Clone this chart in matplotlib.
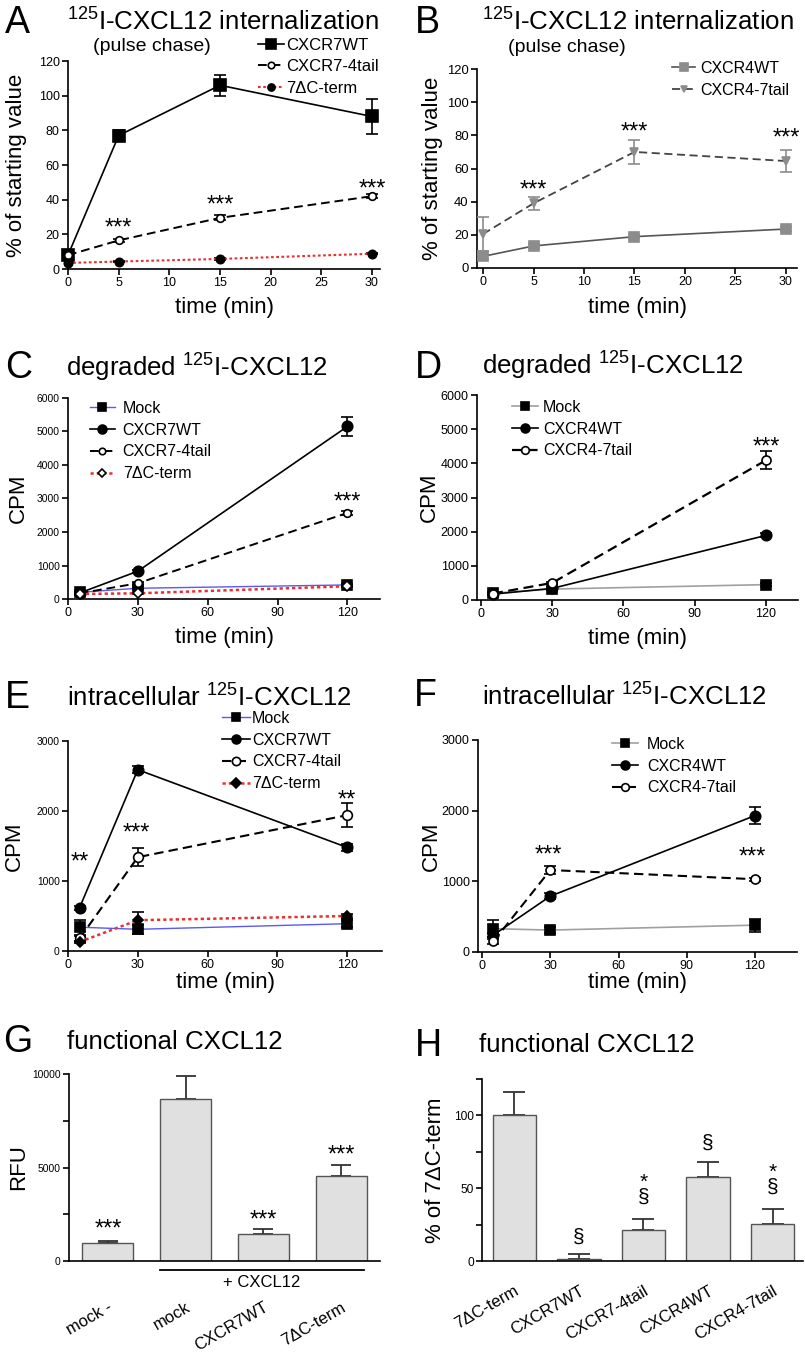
import matplotlib
matplotlib.use('Agg')
import matplotlib.pyplot as plt
from matplotlib.transforms import blended_transform_factory
import numpy as np

plt.rcParams['font.family'] = ['Liberation Sans', 'DejaVu Sans']
plt.rcParams['mathtext.fontset'] = 'custom'
plt.rcParams['mathtext.rm'] = 'Liberation Sans'
plt.rcParams['axes.linewidth'] = 1.2

# ---------------- data ----------------
A_time = [0, 5, 15, 30]
A_wt = [8, 77, 106, 88]
A_wt_err = [2, 3, 6, 10]
A_4tail = [8, 16.5, 29.5, 42]
A_4tail_err = [0.5, 1, 1.5, 1]
A_dC = [3.5, 4.3, 5.8, 8.8]
A_dC_err = [0.3, 0.3, 0.4, 0.4]
A_star_x = [5, 15, 30]
A_star_y = [27.4, 40.8, 50.4]

B_time = [0, 5, 15, 30]
B_wt = [7, 13.3, 18.9, 23.5]
B_wt_err = [1.5, 1, 1, 1]
B_7tail = [20.5, 39, 70, 64.5]
B_7tail_err = [10, 4, 7, 6.5]
B_star_x = [5, 15, 30]
B_star_y = [51, 86.4, 82.8]

C_time = [5, 30, 120]
C_mock = [200, 320, 420]
C_mock_err = [30, 30, 40]
C_wt = [180, 830, 5150]
C_wt_err = [30, 40, 290]
C_4tail = [170, 470, 2570]
C_4tail_err = [20, 40, 50]
C_dC = [150, 170, 380]
C_dC_err = [20, 20, 30]
C_star_x = [120]
C_star_y = [3110]

D_time = [5, 30, 120]
D_mock = [200, 320, 450]
D_mock_err = [30, 30, 40]
D_wt = [170, 340, 1890]
D_wt_err = [20, 30, 60]
D_7tail = [190, 500, 4090]
D_7tail_err = [20, 40, 260]
D_star_x = [120]
D_star_y = [4690]

E_time = [5, 30, 120]
E_mock = [340, 310, 390]
E_mock_err = [110, 60, 50]
E_wt = [620, 2590, 1480]
E_wt_err = [30, 50, 50]
E_4tail = [180, 1340, 1940]
E_4tail_err = [30, 130, 170]
E_dC = [130, 440, 500]
E_dC_err = [20, 120, 30]
E_star_x = [5, 29.4, 120]
E_star_y = [1377, 1783, 2262]
E_star_txt = ['**', '***', '**']

F_time = [5, 30, 120]
F_mock = [330, 310, 380]
F_mock_err = [120, 40, 90]
F_wt = [240, 790, 1930]
F_wt_err = [30, 40, 120]
F_7tail = [150, 1160, 1030]
F_7tail_err = [30, 50, 20]
F_star_x = [29, 119]
F_star_y = [1467, 1447]

G_labels = ['mock -', 'mock', 'CXCR7WT', '7\u0394C-term']
G_values = [970, 8650, 1460, 4560]
G_err = [110, 1220, 240, 570]
G_star_y = [2085, None, 2567, 6043]

H_labels = ['7\u0394C-term', 'CXCR7WT', 'CXCR7-4tail', 'CXCR4WT', 'CXCR4-7tail']
H_values = [100, 1.5, 21.5, 57.7, 25.7]
H_err = [16, 3.2, 7.6, 10, 10.3]
H_sect_y = [None, 16.6, 44, 81, 51]
H_mark = ['', '\u00a7', '*\n\u00a7', '\u00a7', '*\n\u00a7']

# ---------------- figure ----------------
W, H = 805, 1358
fig = plt.figure(figsize=(W / 100, H / 100), dpi=100)


def add_axes(l, r, t, b):
    return fig.add_axes([l / W, 1 - b / H, (r - l) / W, (b - t) / H])


def ftext(x, y, s, **kw):
    fig.text(x / W, 1 - y / H, s, **kw)


def style(ax, xlim, xticks, ylim, yticks, yfs, xfs=9):
    ax.spines['top'].set_visible(False)
    ax.spines['right'].set_visible(False)
    ax.set_xlim(xlim)
    ax.set_ylim(ylim)
    ax.set_xticks(xticks)
    ax.set_yticks(yticks)
    ax.tick_params(axis='y', labelsize=yfs, direction='out', length=4, width=1.2, pad=2)
    ax.tick_params(axis='x', labelsize=xfs, direction='out', length=4, width=1.2, pad=2)


def series(ax, x, y, err, color, ls, lw, marker, ms, mfc, mec, ecolor, label, z=3, capsize=4.5):
    ax.errorbar(x, y, yerr=err, fmt='none', ecolor=ecolor, elinewidth=1.2,
                capsize=capsize, capthick=1.2, zorder=z)
    ln, = ax.plot(x, y, color=color, ls=ls, lw=lw, marker=marker, ms=ms, mfc=mfc,
                  mec=mec, mew=1.2, label=label, zorder=z + 0.1, clip_on=False)
    return ln


def legend(ax, handles, x, ytop, fs=11.5, hl=1.6, htp=0.3, ls=0.42):
    ax.legend(handles=handles, loc='upper left', bbox_to_anchor=(x / W, 1 - ytop / H),
              bbox_transform=fig.transFigure, frameon=False, fontsize=fs,
              handlelength=hl, handletextpad=htp, labelspacing=ls, borderpad=0,
              borderaxespad=0, numpoints=1, markerscale=0.85)


def stars(ax, xs, ys, txt, fs=17):
    if isinstance(txt, str):
        txt = [txt] * len(xs)
    for x, y, s in zip(xs, ys, txt):
        ax.annotate(s, (x, y), xytext=(0, -0.57 * fs), textcoords='offset points',
                    ha='center', va='baseline', fontsize=fs, annotation_clip=False)


RED = '#e8312f'
BLUE = '#5a5af0'
GRAY = '#a0a0a0'
DASH = (0, (4.5, 2.5))
DOT = (0, (1.3, 1.2))
sup = r'$\mathregular{^{125}}$'
TITLE_FS = 18.6
LETTER_FS = 27
LABEL_FS = 16

# ---------------- Panel A ----------------
ax = add_axes(68, 380, 61, 269)
style(ax, (0, 30.8), [0, 5, 10, 15, 20, 25, 30], (0, 120), range(0, 121, 20), 9)
h1 = series(ax, A_time, A_wt, A_wt_err, 'black', '-', 1.2, 's', 9, 'black', 'black', 'black', 'CXCR7WT')
h2 = series(ax, A_time, A_4tail, A_4tail_err, 'black', DASH, 1.4, 'o', 5.5, 'white', 'black', 'black', 'CXCR7-4tail')
h3 = series(ax, A_time, A_dC, A_dC_err, RED, DOT, 1.5, 'o', 6, 'black', 'black', 'black', '7\u0394C-term')
legend(ax, [h1, h2, h3], 258, 38, fs=12, hl=1.55, htp=0.15, ls=0.38)
stars(ax, A_star_x, A_star_y, '***')
ax.set_ylabel('% of starting value', fontsize=LABEL_FS)
ax.yaxis.set_label_coords(-0.131, 0.5)
ax.set_xlabel('time (min)', fontsize=LABEL_FS)
ax.xaxis.set_label_coords(0.5, -0.135)
ftext(5, 33, 'A', fontsize=LETTER_FS, va='baseline')
ftext(67, 31, sup + 'I-CXCL12 internalization', fontsize=TITLE_FS, va='baseline')
ftext(93, 51, '(pulse chase)', fontsize=14, va='baseline')

# ---------------- Panel B ----------------
ax = add_axes(477, 797, 69, 268)
style(ax, (-0.6, 31.1), [0, 5, 10, 15, 20, 25, 30], (0, 120), range(0, 121, 20), 9.4)
g1 = series(ax, B_time, B_wt, B_wt_err, '#555555', '-', 1.2, 's', 6.5, '#8c8c8c', '#8c8c8c', '#8c8c8c', 'CXCR4WT')
g2 = series(ax, B_time, B_7tail, B_7tail_err, '#444444', DASH, 1.3, 'v', 5.5, '#8c8c8c', '#8c8c8c', '#8c8c8c', 'CXCR4-7tail')
legend(ax, [g1, g2], 672, 61, hl=1.45, htp=0.3)
stars(ax, B_star_x, B_star_y, '***')
ax.set_ylabel('% of starting value', fontsize=LABEL_FS)
ax.yaxis.set_label_coords(-0.106, 0.5)
ax.set_xlabel('time (min)', fontsize=LABEL_FS)
ax.xaxis.set_label_coords(0.5, -0.146)
ftext(415, 33, 'B', fontsize=LETTER_FS, va='baseline')
ftext(482, 31, sup + 'I-CXCL12 internalization', fontsize=TITLE_FS, va='baseline')
ftext(508, 52, '(pulse chase)', fontsize=14, va='baseline')

# ---------------- Panel C ----------------
ax = add_axes(68, 380, 398, 599)
style(ax, (0, 134), [0, 30, 60, 90, 120], (0, 6000), range(0, 6001, 1000), 7.4)
c1 = series(ax, C_time, C_mock, C_mock_err, BLUE, '-', 1.0, 's', 6.5, 'black', 'black', 'black', 'Mock')
c2 = series(ax, C_time, C_wt, C_wt_err, 'black', '-', 1.2, 'o', 7.5, 'black', 'black', 'black', 'CXCR7WT')
c3 = series(ax, C_time, C_4tail, C_4tail_err, 'black', DASH, 1.4, 'o', 5.5, 'white', 'black', 'black', 'CXCR7-4tail')
c4 = series(ax, C_time, C_dC, C_dC_err, RED, DOT, 1.8, 'D', 5, 'white', 'black', 'black', '7\u0394C-term')
legend(ax, [c1, c2, c3, c4], 90, 401, hl=1.55, htp=0.5)
stars(ax, C_star_x, C_star_y, '***')
ax.set_ylabel('CPM', fontsize=LABEL_FS)
ax.yaxis.set_label_coords(-0.125, 0.5)
ax.set_xlabel('time (min)', fontsize=LABEL_FS)
ax.xaxis.set_label_coords(0.5, -0.139)
ftext(5, 378, 'C', fontsize=LETTER_FS, va='baseline')
ftext(66, 377, 'degraded ' + sup + 'I-CXCL12', fontsize=TITLE_FS, va='baseline')

# ---------------- Panel D ----------------
ax = add_axes(477, 798, 395, 600)
style(ax, (-1.7, 133.5), [0, 30, 60, 90, 120], (0, 6000), range(0, 6001, 1000), 9)
d1 = series(ax, D_time, D_mock, D_mock_err, GRAY, '-', 1.2, 's', 7, 'black', 'black', 'black', 'Mock')
d2 = series(ax, D_time, D_wt, D_wt_err, 'black', '-', 1.2, 'o', 7.5, 'black', 'black', 'black', 'CXCR4WT')
d3 = series(ax, D_time, D_7tail, D_7tail_err, 'black', DASH, 1.6, 'o', 6.5, 'white', 'black', 'black', 'CXCR4-7tail')
legend(ax, [d1, d2, d3], 512, 400, hl=1.6, htp=0.35)
stars(ax, D_star_x, D_star_y, '***')
ax.set_ylabel('CPM', fontsize=LABEL_FS)
ax.yaxis.set_label_coords(-0.115, 0.5)
ax.set_xlabel('time (min)', fontsize=LABEL_FS)
ax.xaxis.set_label_coords(0.5, -0.137)
ftext(415, 378, 'D', fontsize=LETTER_FS, va='baseline')
ftext(482, 375, 'degraded ' + sup + 'I-CXCL12', fontsize=TITLE_FS, va='baseline')

# ---------------- Panel E ----------------
ax = add_axes(68, 382, 741, 951)
style(ax, (0, 135), [0, 30, 60, 90, 120], (0, 3000), [0, 1000, 2000, 3000], 7.4)
e1 = series(ax, E_time, E_mock, E_mock_err, BLUE, '-', 1.0, 's', 7, 'black', 'black', 'black', 'Mock')
e2 = series(ax, E_time, E_wt, E_wt_err, 'black', '-', 1.2, 'o', 7.5, 'black', 'black', 'black', 'CXCR7WT')
e3 = series(ax, E_time, E_4tail, E_4tail_err, 'black', DASH, 1.5, 'o', 7, 'white', 'black', 'black', 'CXCR7-4tail')
e4 = series(ax, E_time, E_dC, E_dC_err, RED, DOT, 1.8, 'D', 5.5, 'black', 'black', 'black', '7\u0394C-term')
legend(ax, [e1, e2, e3, e4], 222, 711, hl=1.75, htp=0.12)
stars(ax, E_star_x, E_star_y, E_star_txt)
ax.set_ylabel('CPM', fontsize=LABEL_FS)
ax.yaxis.set_label_coords(-0.137, 0.5)
ax.set_xlabel('time (min)', fontsize=LABEL_FS)
ax.xaxis.set_label_coords(0.5, -0.10)
ftext(5, 708, 'E', fontsize=LETTER_FS, va='baseline')
ftext(67, 707, 'intracellular ' + sup + 'I-CXCL12', fontsize=TITLE_FS, va='baseline')

# ---------------- Panel F ----------------
ax = add_axes(478, 797, 740, 952)
style(ax, (-1.8, 138.5), [0, 30, 60, 90, 120], (0, 3000), [0, 1000, 2000, 3000], 9)
f1 = series(ax, F_time, F_mock, F_mock_err, GRAY, '-', 1.2, 's', 7.5, 'black', 'black', 'black', 'Mock')
f2 = series(ax, F_time, F_wt, F_wt_err, 'black', '-', 1.2, 'o', 7.5, 'black', 'black', 'black', 'CXCR4WT')
f3 = series(ax, F_time, F_7tail, F_7tail_err, 'black', DASH, 1.5, 'o', 6.5, 'white', 'black', 'black', 'CXCR4-7tail')
legend(ax, [f1, f2, f3], 612, 737, hl=1.6, htp=0.6)
stars(ax, F_star_x, F_star_y, '***')
ax.set_ylabel('CPM', fontsize=LABEL_FS)
ax.yaxis.set_label_coords(-0.113, 0.5)
ax.set_xlabel('time (min)', fontsize=LABEL_FS)
ax.xaxis.set_label_coords(0.5, -0.094)
ftext(414, 706, 'F', fontsize=LETTER_FS, va='baseline')
ftext(482, 706, 'intracellular ' + sup + 'I-CXCL12', fontsize=TITLE_FS, va='baseline')

# ---------------- Panel G ----------------
ax = add_axes(69, 380, 1074, 1261)
xg = np.arange(len(G_labels))
ax.bar(xg, G_values, width=0.655, color='#e0e0e0', edgecolor='#555555', linewidth=1.0, zorder=2)
ax.errorbar(xg, G_values, yerr=[np.zeros(len(G_err)), G_err], fmt='none', ecolor='#333333',
            elinewidth=1.3, capsize=7.5, capthick=1.3, zorder=1.5)
ax.spines['top'].set_visible(False)
ax.spines['right'].set_visible(False)
ax.set_xlim(-0.5, 3.5)
ax.set_ylim(0, 10000)
ax.set_yticks(range(0, 10001, 2500))
ax.set_yticklabels(['0', '', '5000', '', '10000'])
ax.tick_params(axis='y', labelsize=7.4, direction='out', length=4, width=1.2, pad=2)
ax.set_xticks(xg)
ax.set_xticklabels(G_labels, rotation=30, ha='right', rotation_mode='anchor', fontsize=12)
ax.tick_params(axis='x', length=0, pad=28)
for xi, yi in zip(xg, G_star_y):
    if yi is not None:
        stars(ax, [xi], [yi], '***')
tr = blended_transform_factory(ax.transData, ax.transAxes)
ax.plot([0.67, 3.29], [-0.048, -0.048], color='black', lw=1.3, transform=tr, clip_on=False)
ax.text(1.98, -0.117, '+ CXCL12', transform=tr, ha='center', va='center', fontsize=12)
ax.set_ylabel('RFU', fontsize=LABEL_FS)
ax.yaxis.set_label_coords(-0.129, 0.5)
ftext(3, 1052, 'G', fontsize=LETTER_FS, va='baseline')
ftext(67, 1049, 'functional CXCL12', fontsize=TITLE_FS, va='baseline')

# ---------------- Panel H ----------------
ax = add_axes(482, 803, 1079, 1261)
xh = np.arange(len(H_labels))
ax.bar(xh, H_values, width=0.67, color='#e0e0e0', edgecolor='#555555', linewidth=1.0, zorder=2)
ax.errorbar(xh, H_values, yerr=[np.zeros(len(H_err)), H_err], fmt='none', ecolor='#333333',
            elinewidth=1.3, capsize=8, capthick=1.3, zorder=1.5)
ax.spines['top'].set_visible(False)
ax.spines['right'].set_visible(False)
ax.set_xlim(-0.5, 4.47)
ax.set_ylim(0, 125)
ax.set_yticks(range(0, 126, 25))
ax.set_yticklabels(['0', '', '50', '', '100', ''])
ax.tick_params(axis='y', labelsize=8.6, direction='out', length=4, width=1.2, pad=2)
ax.set_xticks(xh)
ax.set_xticklabels(H_labels, rotation=30, ha='right', rotation_mode='anchor', fontsize=12)
ax.tick_params(axis='x', length=0, pad=16)
MFS = 15
for xi, yi, s in zip(xh, H_sect_y, H_mark):
    if yi is not None:
        ax.annotate(s, (xi, yi), xytext=(0, -(0.27 + 0.21) * MFS), textcoords='offset points',
                    ha='center', va='bottom', multialignment='center', fontsize=MFS,
                    linespacing=0.74, annotation_clip=False)
ax.set_ylabel('% of 7\u0394C-term', fontsize=LABEL_FS)
ax.yaxis.set_label_coords(-0.112, 0.5)
ftext(415, 1056, 'H', fontsize=LETTER_FS, va='baseline')
ftext(479, 1052, 'functional CXCL12', fontsize=TITLE_FS, va='baseline')

fig.savefig('out.png', dpi=100)
